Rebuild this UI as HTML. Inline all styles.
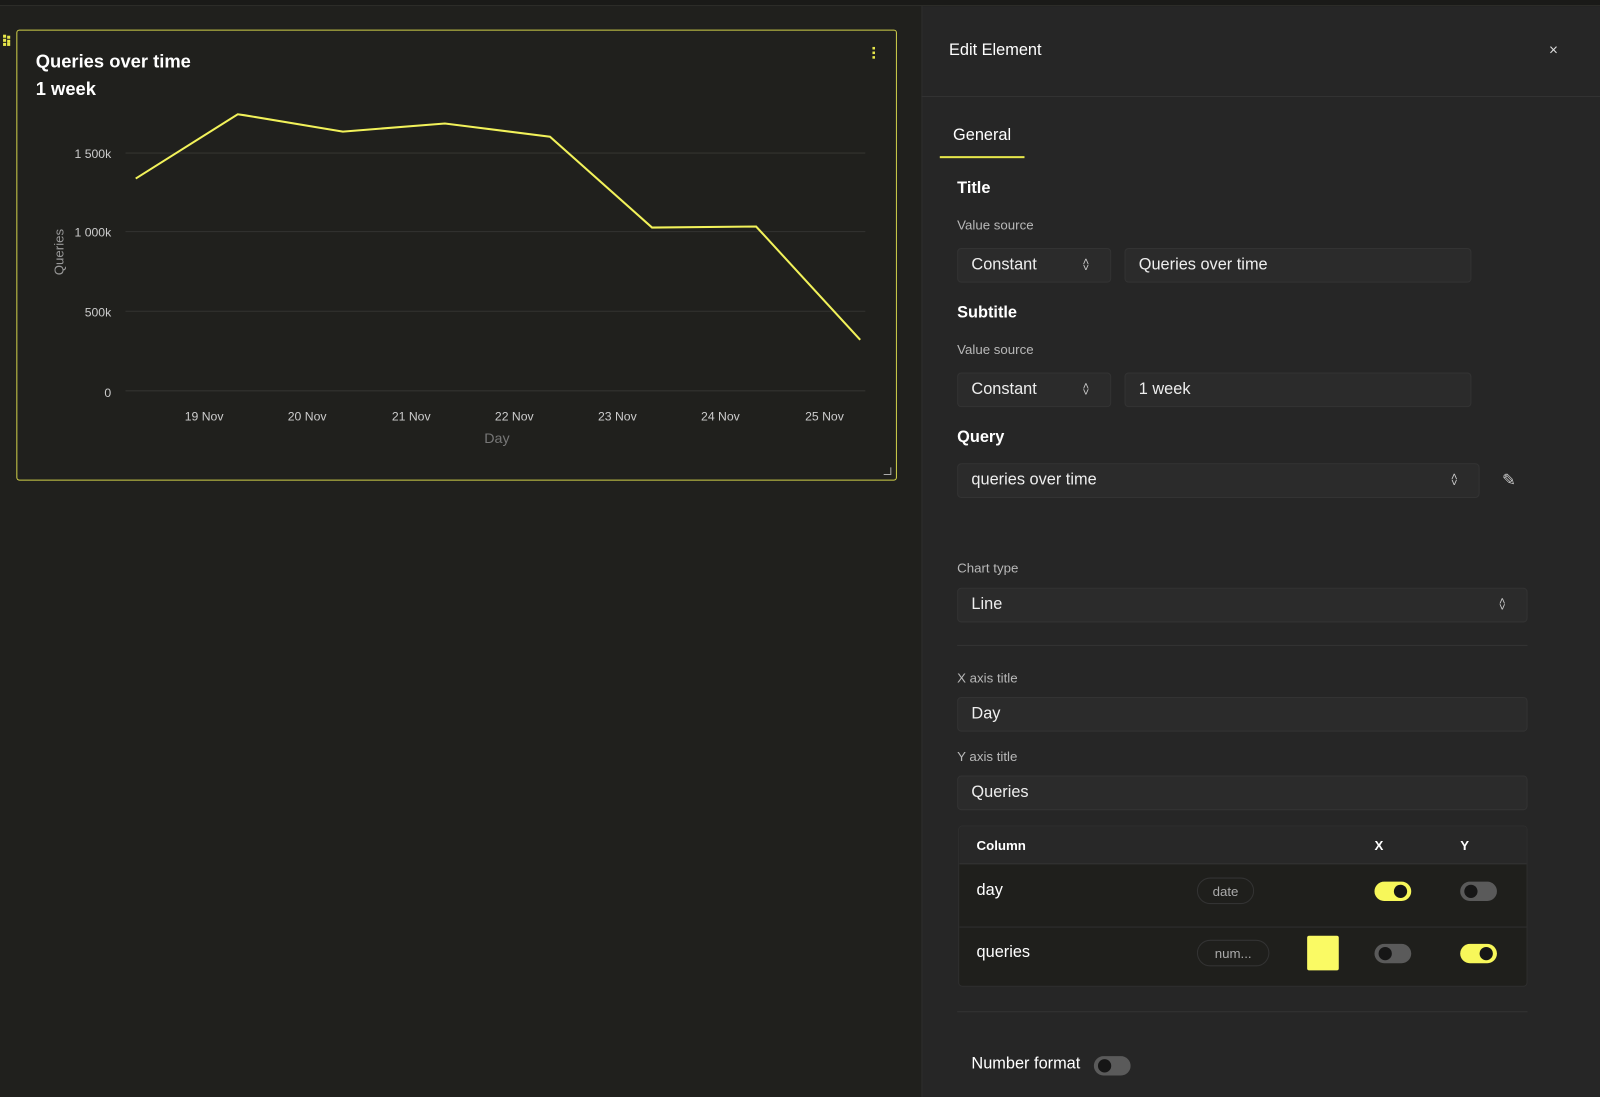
<!DOCTYPE html>
<html><head><meta charset="utf-8"><style>
*{box-sizing:border-box;margin:0;padding:0}
html,body{width:1600px;height:1097px;overflow:hidden;background:#20201d}
#w{position:absolute;left:0;top:0;width:1568px;height:1075px;transform:scale(1.020408);transform-origin:0 0;font-family:"Liberation Sans",sans-serif;color:#fff}
.a{position:absolute;white-space:nowrap}
.box{position:absolute;background:#2b2b2b;border:1px solid #333;border-radius:4px;font-size:16px;color:#eee;padding-left:13px;display:flex;align-items:center}
.lbl{position:absolute;font-size:13px;color:#b8b8b8}
.h{position:absolute;font-size:16px;font-weight:bold}
.chev{position:absolute;font-size:11px;color:#ccc;line-height:6px;text-align:center}
.tg{position:absolute;width:36px;height:19px;border-radius:10px;background:#5a5a5a}
.tg i{position:absolute;top:3px;width:13px;height:13px;border-radius:50%;background:#161616}
.on{background:#f7f75a}
.pill{position:absolute;height:26px;border:1px solid #333;border-radius:13px;font-size:13px;color:#aaa;display:flex;align-items:center;justify-content:center}
</style></head><body><div id="w">
<div class="a" style="left:0;top:0;width:1568px;height:6px;background:#1a1a18;border-bottom:1px solid #2e2e2b"></div>
<!-- chart card -->
<div class="a" style="left:16px;top:29px;width:863px;height:442px;border:1px solid #cfcf4a;border-radius:3px"></div>
<div class="a" style="left:3px;top:34px;width:8px;font-size:0">
<span style="display:inline-block;width:3px;height:3px;background:#e6e64a;margin:0 1px 1px 0"></span><span style="display:inline-block;width:3px;height:3px;background:#e6e64a"></span><br><span style="display:inline-block;width:3px;height:3px;background:#e6e64a;margin:0 1px 1px 0"></span><span style="display:inline-block;width:3px;height:3px;background:#e6e64a"></span><br><span style="display:inline-block;width:3px;height:3px;background:#e6e64a;margin:0 1px 0 0"></span><span style="display:inline-block;width:3px;height:3px;background:#e6e64a"></span></div>
<div class="a" style="left:35px;top:50px;font-size:18px;font-weight:bold">Queries over time</div>
<div class="a" style="left:35px;top:77px;font-size:18px;font-weight:bold">1 week</div>
<svg class="a" style="left:0;top:0" width="900" height="480">
<g fill="#e6e64a"><rect x="855" y="46" width="2.5" height="2.5"/><rect x="855" y="50.5" width="2.5" height="2.5"/><rect x="855" y="55" width="2.5" height="2.5"/></g>
<g stroke="#333330" stroke-width="1"><line x1="123" y1="150" x2="848" y2="150"/><line x1="123" y1="227" x2="848" y2="227"/><line x1="123" y1="305" x2="848" y2="305"/><line x1="123" y1="383" x2="848" y2="383"/></g>
<g font-size="12" fill="#ccc" text-anchor="end" font-family="Liberation Sans"><text x="109" y="155">1 500k</text><text x="109" y="232">1 000k</text><text x="109" y="310">500k</text><text x="109" y="389">0</text></g>
<g font-size="12" fill="#ccc" text-anchor="middle" font-family="Liberation Sans"><text x="200" y="412">19 Nov</text><text x="301" y="412">20 Nov</text><text x="403" y="412">21 Nov</text><text x="504" y="412">22 Nov</text><text x="605" y="412">23 Nov</text><text x="706" y="412">24 Nov</text><text x="808" y="412">25 Nov</text></g>
<text x="487" y="434" font-size="14" fill="#777" text-anchor="middle" font-family="Liberation Sans">Day</text>
<text transform="translate(62,247) rotate(-90)" font-size="13" fill="#999" text-anchor="middle" font-family="Liberation Sans">Queries</text>
<polyline fill="none" stroke="#f2f25a" stroke-width="2" points="133,175 233,112 240,113 336,129 436,121 539,134 639,223 741,222 843,333"/>
<path d="M873 458 V465 H866" stroke="#aaa" fill="none" stroke-width="1"/>
</svg>
<!-- right panel -->
<div class="a" style="left:903px;top:6px;width:665px;height:1069px;background:#262626;border-left:1px solid #2e2e2e"></div>
<div class="a" style="left:930px;top:41px;font-size:16px">Edit Element</div>
<div class="a" style="left:1518px;top:41px;font-size:15px;color:#ddd">×</div>
<div class="a" style="left:903px;top:94px;width:665px;height:1px;background:#333"></div>
<div class="a" style="left:934px;top:124px;font-size:16px">General</div>
<div class="a" style="left:921px;top:153px;width:83px;height:2px;background:#e6e64a"></div>
<div class="h" style="left:938px;top:176px">Title</div>
<div class="lbl" style="left:938px;top:213px">Value source</div>
<div class="box" style="left:938px;top:243px;width:151px;height:34px">Constant</div>
<div class="chev" style="left:1061px;top:254px">˄<br>˅</div>
<div class="box" style="left:1102px;top:243px;width:340px;height:34px">Queries over time</div>
<div class="h" style="left:938px;top:298px">Subtitle</div>
<div class="lbl" style="left:938px;top:335px">Value source</div>
<div class="box" style="left:938px;top:365px;width:151px;height:34px">Constant</div>
<div class="chev" style="left:1061px;top:376px">˄<br>˅</div>
<div class="box" style="left:1102px;top:365px;width:340px;height:34px">1 week</div>
<div class="h" style="left:938px;top:420px">Query</div>
<div class="box" style="left:938px;top:454px;width:512px;height:34px">queries over time</div>
<div class="chev" style="left:1422px;top:465px">˄<br>˅</div>
<div class="a" style="left:1472px;top:461px;font-size:16px;color:#ccc">✎</div>
<div class="lbl" style="left:938px;top:549px">Chart type</div>
<div class="box" style="left:938px;top:576px;width:559px;height:34px">Line</div>
<div class="chev" style="left:1469px;top:587px">˄<br>˅</div>
<div class="a" style="left:938px;top:632px;width:559px;height:1px;background:#333"></div>
<div class="lbl" style="left:938px;top:657px">X axis title</div>
<div class="box" style="left:938px;top:683px;width:559px;height:34px">Day</div>
<div class="lbl" style="left:938px;top:734px">Y axis title</div>
<div class="box" style="left:938px;top:760px;width:559px;height:34px">Queries</div>
<div class="a" style="left:939px;top:809px;width:558px;height:158px;border:1px solid #2f2f2f;border-radius:4px;background:#1f1f1c;overflow:hidden">
<div class="a" style="left:0;top:0;width:558px;height:37px;background:#282828;border-bottom:1px solid #333"></div>
<div class="a" style="left:0;top:98px;width:558px;height:1px;background:#303030"></div>
</div>
<div class="a" style="left:957px;top:821px;font-size:13px;font-weight:bold">Column</div>
<div class="a" style="left:1347px;top:821px;font-size:13px;font-weight:bold">X</div>
<div class="a" style="left:1431px;top:821px;font-size:13px;font-weight:bold">Y</div>
<div class="a" style="left:957px;top:864px;font-size:16px">day</div>
<div class="pill" style="left:1173px;top:860px;width:56px">date</div>
<div class="tg on" style="left:1347px;top:864px"><i style="right:4px"></i></div>
<div class="tg" style="left:1431px;top:864px"><i style="left:4px"></i></div>
<div class="a" style="left:957px;top:925px;font-size:16px">queries</div>
<div class="pill" style="left:1173px;top:921px;width:71px">num...</div>
<div class="a" style="left:1281px;top:917px;width:31px;height:34px;background:#fafa64;border-radius:2px"></div>
<div class="tg" style="left:1347px;top:925px"><i style="left:4px"></i></div>
<div class="tg on" style="left:1431px;top:925px"><i style="right:4px"></i></div>
<div class="a" style="left:938px;top:991px;width:559px;height:1px;background:#333"></div>
<div class="a" style="left:952px;top:1034px;font-size:16px">Number format</div>
<div class="tg" style="left:1072px;top:1035px"><i style="left:4px"></i></div>
</div></body></html>
